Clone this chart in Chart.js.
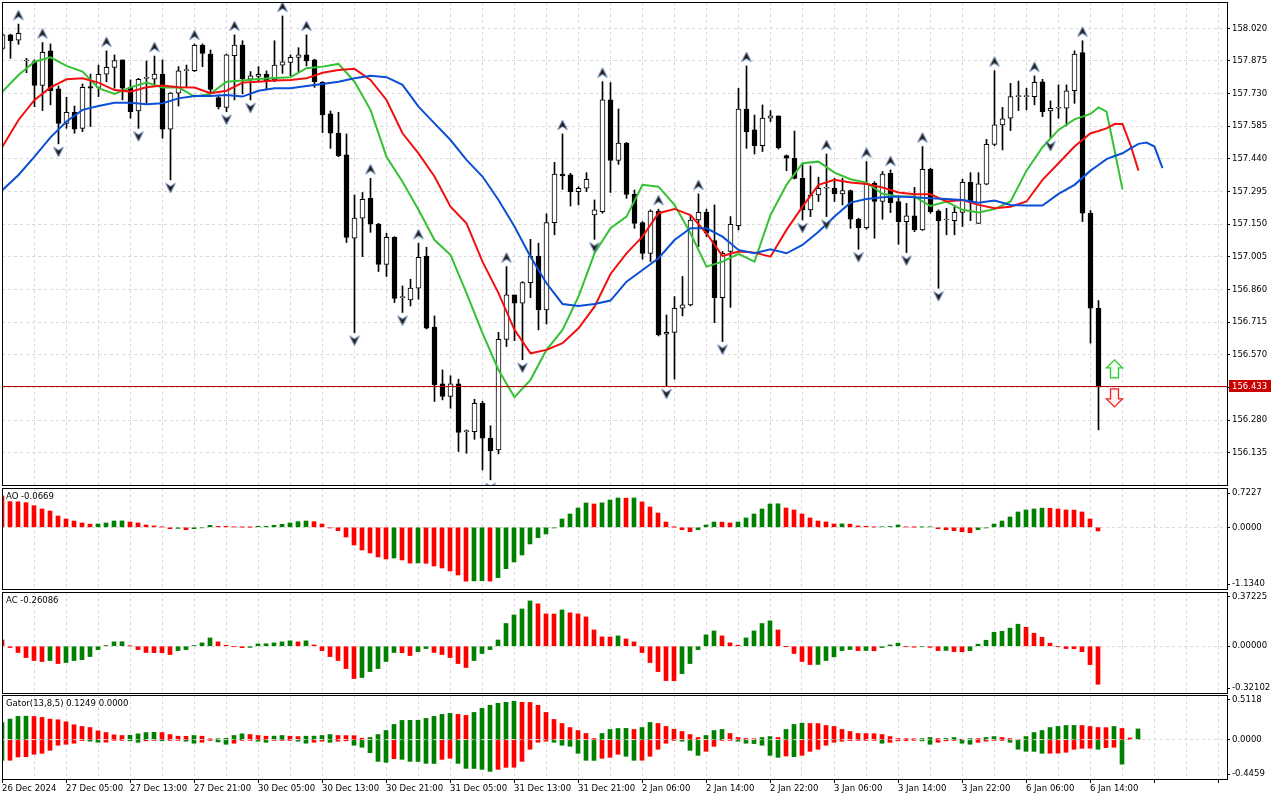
<!DOCTYPE html>
<html>
<head>
<meta charset="utf-8">
<title>USDJPY H1 - Alligator, AO, AC, Gator</title>
<script src="https://cdn.jsdelivr.net/npm/chart.js@4.4.1/dist/chart.umd.min.js"></script>
<style>
  html, body { margin: 0; padding: 0; background: #fff; }
  #wrap { position: relative; width: 1280px; height: 800px; overflow: hidden; background: #fff; }
  #wrap canvas { position: absolute; left: 0; }
</style>
</head>
<body>
<div id="wrap">
  <canvas id="price" width="1280" height="487" style="top:0px"></canvas>
  <canvas id="ao" width="1280" height="103" style="top:487px"></canvas>
  <canvas id="ac" width="1280" height="103" style="top:591px"></canvas>
  <canvas id="gator" width="1280" height="106" style="top:694px"></canvas>
</div>
<script>
// ---- candles (H1), index 0 = 26 Dec 21:00 ----
const opens = [
  157.931, 157.991, 157.968, 157.875, 157.872, 157.766, 157.920, 157.751, 157.598, 157.647,
  157.576, 157.761, 157.758, 157.817, 157.847, 157.880, 157.758, 157.653, 157.798, 157.794,
  157.817, 157.572, 157.732, 157.832, 157.832, 157.945, 157.906, 157.712, 157.669, 157.899,
  157.946, 157.794, 157.806, 157.817, 157.791, 157.856, 157.869, 157.891, 157.902, 157.880,
  157.780, 157.640, 157.554, 157.458, 157.088, 157.177, 157.265, 157.151, 156.972, 157.092,
  156.824, 156.814, 156.866, 157.009, 156.693, 156.441, 156.385, 156.441, 156.229, 156.229,
  156.355, 156.200, 156.148, 156.639, 156.836, 156.799, 156.891, 157.009, 156.770, 157.157,
  157.373, 157.369, 157.295, 157.310, 157.191, 157.206, 157.702, 157.433, 157.510, 157.283,
  157.157, 157.021, 157.209, 156.662, 156.670, 156.777, 156.792, 157.169, 157.203, 157.077,
  156.824, 157.029, 157.144, 157.661, 157.569, 157.499, 157.621, 157.631, 157.455, 157.443,
  157.354, 157.214, 157.280, 157.310, 157.310, 157.285, 157.299, 157.172, 157.135, 157.332,
  157.251, 157.376, 157.251, 157.162, 157.187, 157.125, 157.394, 157.209, 157.169, 157.166,
  157.203, 157.336, 157.154, 157.328, 157.505, 157.591, 157.621, 157.717, 157.717, 157.717,
  157.783, 157.653, 157.665, 157.665, 157.743, 157.912, 157.199, 156.777
];
const highs = [
  157.998, 157.994, 158.039, 157.887, 157.880, 157.957, 157.951, 157.764, 157.714, 157.675,
  157.773, 157.817, 157.857, 157.920, 157.902, 157.880, 157.791, 157.798, 157.875, 157.897,
  157.880, 157.735, 157.850, 157.857, 157.951, 157.951, 157.924, 157.724, 157.906, 157.991,
  157.965, 157.828, 157.850, 157.831, 157.965, 158.075, 157.902, 157.934, 157.991, 157.883,
  157.783, 157.653, 157.647, 157.551, 157.280, 157.291, 157.354, 157.154, 157.110, 157.095,
  156.876, 156.906, 157.066, 157.048, 156.743, 156.503, 156.477, 156.462, 156.237, 156.373,
  156.363, 156.255, 156.670, 156.962, 156.836, 156.895, 157.083, 157.066, 157.196, 157.425,
  157.551, 157.376, 157.317, 157.379, 157.258, 157.783, 157.779, 157.662, 157.513, 157.302,
  157.162, 157.214, 157.217, 156.747, 156.829, 156.918, 157.191, 157.285, 157.217, 157.236,
  157.029, 157.184, 157.754, 157.853, 157.635, 157.680, 157.655, 157.631, 157.458, 157.564,
  157.421, 157.409, 157.359, 157.462, 157.354, 157.354, 157.302, 157.177, 157.428, 157.339,
  157.384, 157.391, 157.273, 157.243, 157.314, 157.495, 157.399, 157.214, 157.221, 157.228,
  157.350, 157.379, 157.379, 157.527, 157.832, 157.669, 157.776, 157.786, 157.754, 157.809,
  157.794, 157.698, 157.769, 157.769, 157.920, 157.965, 157.211, 156.811
];
const lows = [
  157.924, 157.887, 157.949, 157.823, 157.672, 157.655, 157.680, 157.507, 157.576, 157.554,
  157.561, 157.584, 157.717, 157.783, 157.754, 157.702, 157.621, 157.576, 157.687, 157.764,
  157.532, 157.347, 157.675, 157.761, 157.828, 157.850, 157.732, 157.662, 157.650, 157.702,
  157.729, 157.702, 157.783, 157.749, 157.783, 157.820, 157.809, 157.828, 157.853, 157.758,
  157.557, 157.487, 157.450, 157.069, 156.669, 157.006, 157.114, 156.940, 156.918, 156.802,
  156.758, 156.787, 156.817, 156.685, 156.363, 156.370, 156.333, 156.141, 156.133, 156.195,
  156.059, 156.015, 156.130, 156.607, 156.633, 156.548, 156.824, 156.681, 156.707, 157.103,
  157.305, 157.231, 157.236, 157.295, 157.083, 157.199, 157.291, 157.416, 157.265, 157.132,
  156.995, 156.984, 156.654, 156.432, 156.462, 156.743, 156.787, 157.051, 157.095, 156.713,
  156.629, 156.781, 157.125, 157.487, 157.462, 157.473, 157.606, 157.484, 157.388, 157.351,
  157.169, 157.184, 157.251, 157.184, 157.251, 157.236, 157.132, 157.039, 157.128, 157.088,
  157.172, 157.202, 157.061, 157.024, 157.117, 157.122, 157.199, 156.866, 157.103, 157.103,
  157.140, 157.166, 157.154, 157.325, 157.499, 157.480, 157.566, 157.655, 157.658, 157.680,
  157.628, 157.532, 157.621, 157.587, 157.687, 157.162, 156.622, 156.237
];
const closes = [
  157.991, 157.965, 157.998, 157.875, 157.766, 157.914, 157.743, 157.598, 157.647, 157.572,
  157.758, 157.754, 157.816, 157.847, 157.877, 157.754, 157.650, 157.794, 157.798, 157.817,
  157.572, 157.732, 157.831, 157.832, 157.945, 157.909, 157.749, 157.672, 157.902, 157.946,
  157.795, 157.809, 157.816, 157.786, 157.857, 157.871, 157.891, 157.902, 157.875, 157.783,
  157.635, 157.554, 157.455, 157.091, 157.177, 157.261, 157.150, 156.972, 157.092, 156.821,
  156.824, 156.866, 157.003, 156.688, 156.437, 156.385, 156.441, 156.225, 156.229, 156.355,
  156.200, 156.145, 156.639, 156.836, 156.799, 156.891, 157.009, 156.770, 157.157, 157.373,
  157.365, 157.295, 157.310, 157.350, 157.214, 157.702, 157.433, 157.510, 157.283, 157.154,
  157.021, 157.209, 156.659, 156.670, 156.777, 156.792, 157.169, 157.203, 157.110, 156.824,
  157.021, 157.150, 157.661, 157.561, 157.499, 157.621, 157.631, 157.490, 157.443, 157.354,
  157.214, 157.280, 157.310, 157.310, 157.285, 157.299, 157.172, 157.135, 157.332, 157.251,
  157.373, 157.246, 157.162, 157.187, 157.125, 157.394, 157.206, 157.166, 157.169, 157.203,
  157.336, 157.251, 157.329, 157.505, 157.591, 157.618, 157.717, 157.717, 157.717, 157.780,
  157.650, 157.665, 157.665, 157.743, 157.906, 157.199, 156.777, 156.433
];

// fractal bars (candle indices)
const upFractals = [2, 5, 13, 19, 24, 29, 35, 38, 46, 52, 63, 70, 75, 82, 87, 93, 103, 108, 111, 115, 124, 129, 135];
const downFractals = [7, 17, 21, 28, 31, 44, 50, 61, 65, 74, 83, 90, 100, 103, 107, 113, 117, 131];

// Alligator lines, read every 2nd bar, then every bar on the shifted tail
const lineIdx = [];
for (let i = 0; i <= 136; i += 2) lineIdx.push(i);
for (let i = 137; i <= 145; i++) lineIdx.push(i);

const jawLine = [
  157.302, 157.369, 157.450, 157.536, 157.606, 157.658, 157.675, 157.690, 157.690, 157.683,
  157.687, 157.709, 157.720, 157.720, 157.724, 157.717, 157.743, 157.754, 157.754, 157.764,
  157.773, 157.783, 157.798, 157.809, 157.803, 157.769, 157.672, 157.598, 157.524, 157.436,
  157.362, 157.258, 157.140, 157.006, 156.888, 156.796, 156.787, 156.796, 156.811, 156.895,
  156.947, 156.999, 157.080, 157.132, 157.132, 157.095, 157.036, 157.021, 157.039, 157.021,
  157.058, 157.117, 157.184, 157.246, 157.262, 157.270, 157.273, 157.270, 157.265, 157.262,
  157.258, 157.246, 157.255, 157.236, 157.233, 157.233, 157.285, 157.325, 157.388,
  157.413, 157.439, 157.453, 157.465, 157.487, 157.507, 157.513, 157.495, 157.399
];
const teethLine = [
  157.495, 157.613, 157.702, 157.758, 157.794, 157.798, 157.779, 157.746, 157.739, 157.758,
  157.766, 157.758, 157.757, 157.732, 157.743, 157.779, 157.783, 157.788, 157.791, 157.798,
  157.823, 157.835, 157.840, 157.791, 157.702, 157.554, 157.465, 157.362, 157.228, 157.154,
  156.984, 156.844, 156.681, 156.577, 156.592, 156.622, 156.688, 156.784, 156.929, 157.021,
  157.095, 157.199, 157.218, 157.191, 157.110, 157.009, 157.029, 157.024, 157.006, 157.125,
  157.228, 157.325, 157.347, 157.335, 157.329, 157.313, 157.291, 157.283, 157.283, 157.251,
  157.258, 157.236, 157.221, 157.228, 157.251, 157.347, 157.421, 157.495, 157.554,
  157.564, 157.576, 157.595, 157.595, 157.502, 157.388
];
const lipsLine = [
  157.739, 157.813, 157.872, 157.891, 157.853, 157.828, 157.754, 157.729, 157.758, 157.779,
  157.757, 157.758, 157.717, 157.729, 157.783, 157.788, 157.795, 157.800, 157.803, 157.843,
  157.850, 157.862, 157.783, 157.658, 157.450, 157.339, 157.214, 157.080, 157.014, 156.844,
  156.666, 156.503, 156.382, 156.459, 156.592, 156.681, 156.829, 157.021, 157.132, 157.184,
  157.325, 157.317, 157.236, 157.110, 156.962, 156.984, 157.018, 156.984, 157.191, 157.325,
  157.421, 157.428, 157.379, 157.350, 157.335, 157.285, 157.273, 157.273, 157.231, 157.251,
  157.214, 157.202, 157.217, 157.251, 157.388, 157.492, 157.569, 157.616, 157.640,
  157.669, 157.650, 157.480, 157.305
];

// Awesome Oscillator
const aoValues = [
  0.576, 0.472, 0.470, 0.453, 0.398, 0.337, 0.300, 0.208, 0.153, 0.116,
  0.080, 0.058, 0.062, 0.080, 0.116, 0.118, 0.098, 0.080, 0.043, 0.025,
  0.006, -0.025, -0.020, -0.043, -0.025, -0.010, 0.037, 0.018, 0.017, 0.006,
  0.004, 0.002, 0.018, 0.019, 0.037, 0.055, 0.080, 0.104, 0.116, 0.104,
  0.061, -0.012, -0.061, -0.178, -0.325, -0.417, -0.472, -0.545, -0.582, -0.564,
  -0.600, -0.658, -0.655, -0.662, -0.711, -0.748, -0.803, -0.876, -0.990, -0.985,
  -0.982, -0.988, -0.925, -0.760, -0.637, -0.509, -0.306, -0.190, -0.123, -0.012,
  0.153, 0.245, 0.355, 0.447, 0.429, 0.450, 0.502, 0.539, 0.536, 0.540,
  0.466, 0.374, 0.263, 0.098, 0.002, -0.043, -0.080, -0.043, 0.043, 0.098,
  0.096, 0.080, 0.098, 0.172, 0.245, 0.337, 0.429, 0.432, 0.355, 0.319,
  0.245, 0.172, 0.116, 0.098, 0.061, 0.063, 0.058, 0.025, 0.018, 0.005,
  0.010, 0.015, 0.043, 0.006, 0.003, 0.005, 0.008, -0.025, -0.043, -0.061,
  -0.080, -0.098, -0.043, -0.012, 0.061, 0.116, 0.190, 0.282, 0.319, 0.337,
  0.352, 0.349, 0.337, 0.319, 0.317, 0.282, 0.153, -0.067
];
// Accelerator Oscillator
const acValues = [
  0.043, -0.009, -0.043, -0.078, -0.098, -0.105, -0.098, -0.119, -0.112, -0.098,
  -0.092, -0.071, -0.023, 0.005, 0.030, 0.031, 0.002, -0.023, -0.043, -0.044,
  -0.045, -0.057, -0.030, -0.023, 0.005, 0.023, 0.057, 0.030, 0.007, -0.002,
  -0.010, -0.008, 0.016, 0.017, 0.023, 0.030, 0.037, 0.030, 0.037, 0.009,
  -0.030, -0.071, -0.098, -0.153, -0.222, -0.215, -0.174, -0.153, -0.105, -0.043,
  -0.044, -0.064, -0.037, -0.016, -0.043, -0.057, -0.078, -0.119, -0.146, -0.098,
  -0.050, -0.023, 0.043, 0.156, 0.215, 0.256, 0.311, 0.291, 0.222, 0.221,
  0.249, 0.229, 0.222, 0.201, 0.112, 0.064, 0.063, 0.071, 0.050, 0.030,
  -0.043, -0.112, -0.174, -0.236, -0.237, -0.188, -0.119, -0.023, 0.078, 0.105,
  0.071, 0.023, 0.007, 0.057, 0.105, 0.156, 0.174, 0.112, -0.001, -0.050,
  -0.105, -0.126, -0.125, -0.098, -0.073, -0.030, -0.023, -0.030, -0.029, -0.031,
  -0.009, 0.009, 0.021, -0.002, -0.007, -0.003, -0.008, -0.030, -0.029, -0.037,
  -0.038, -0.030, 0.014, 0.041, 0.096, 0.103, 0.124, 0.151, 0.130, 0.089,
  0.062, 0.021, -0.002, -0.016, -0.017, -0.037, -0.126, -0.261
];
// Gator Oscillator (upper = jaw/teeth gap, lower = teeth/lips gap)
const gatorUpper = [
  0.199, 0.237, 0.268, 0.270, 0.267, 0.256, 0.237, 0.229, 0.206, 0.172,
  0.153, 0.141, 0.103, 0.084, 0.057, 0.050, 0.052, 0.069, 0.084, 0.086,
  0.084, 0.061, 0.042, 0.041, 0.050, 0.042, 0.012, 0.013, 0.018, 0.050,
  0.069, 0.061, 0.050, 0.042, 0.043, 0.050, 0.042, 0.038, 0.042, 0.043,
  0.050, 0.061, 0.050, 0.049, 0.048, 0.019, 0.027, 0.061, 0.107, 0.176,
  0.222, 0.223, 0.224, 0.245, 0.268, 0.291, 0.302, 0.291, 0.279, 0.313,
  0.359, 0.394, 0.417, 0.428, 0.440, 0.428, 0.427, 0.394, 0.313, 0.233,
  0.187, 0.141, 0.107, 0.073, 0.015, 0.073, 0.119, 0.130, 0.131, 0.119,
  0.141, 0.199, 0.187, 0.153, 0.122, 0.096, 0.061, 0.027, 0.050, 0.107,
  0.119, 0.073, 0.027, 0.015, 0.013, 0.027, 0.038, 0.027, 0.119, 0.176,
  0.191, 0.187, 0.186, 0.164, 0.153, 0.119, 0.096, 0.073, 0.072, 0.071,
  0.061, 0.038, 0.015, 0.014, 0.013, 0.015, 0.027, 0.015, 0.016, 0.027,
  0.002, 0.015, 0.014, 0.027, 0.038, 0.027, 0.015, 0.005, 0.038, 0.084,
  0.107, 0.141, 0.153, 0.164, 0.165, 0.164, 0.153, 0.141, 0.140, 0.153,
  0.130, 0.022, 0.125
];
const gatorLower = [
  -0.233, -0.232, -0.195, -0.191, -0.164, -0.153, -0.119, -0.061, -0.050, -0.038,
  -0.008, -0.015, -0.027, -0.026, -0.004, -0.003, -0.011, -0.027, -0.011, -0.004,
  -0.011, -0.004, -0.003, -0.015, -0.038, -0.027, -0.004, -0.023, -0.050, -0.038,
  -0.004, -0.002, -0.015, -0.027, -0.004, -0.003, -0.002, -0.015, -0.038, -0.027,
  -0.015, -0.027, -0.015, -0.011, -0.061, -0.084, -0.145, -0.245, -0.256, -0.214,
  -0.222, -0.245, -0.246, -0.268, -0.269, -0.222, -0.210, -0.268, -0.325, -0.326,
  -0.336, -0.359, -0.336, -0.313, -0.312, -0.245, -0.107, -0.027, -0.015, -0.027,
  -0.061, -0.073, -0.153, -0.233, -0.234, -0.210, -0.199, -0.164, -0.187, -0.233,
  -0.232, -0.187, -0.107, -0.038, -0.004, -0.015, -0.119, -0.176, -0.130, -0.073,
  -0.004, -0.002, -0.015, -0.038, -0.042, -0.061, -0.176, -0.199, -0.184, -0.191,
  -0.176, -0.130, -0.107, -0.061, -0.027, -0.015, -0.008, -0.004, -0.003, -0.002,
  -0.038, -0.027, -0.011, -0.010, -0.004, -0.011, -0.050, -0.027, -0.011, -0.004,
  -0.038, -0.050, -0.027, -0.015, -0.004, -0.003, -0.027, -0.107, -0.130, -0.131,
  -0.153, -0.152, -0.151, -0.141, -0.107, -0.096, -0.095, -0.107, -0.088, -0.084,
  -0.277
];

// axes
const priceTicks = [158.020, 157.875, 157.730, 157.585, 157.440, 157.295, 157.150,
  157.005, 156.860, 156.715, 156.570, 156.425, 156.280, 156.135];
const timeLabels = ['26 Dec 2024', '27 Dec 05:00', '27 Dec 13:00', '27 Dec 21:00', '30 Dec 05:00',
  '30 Dec 13:00', '30 Dec 21:00', '31 Dec 05:00', '31 Dec 13:00', '31 Dec 21:00', '2 Jan 06:00',
  '2 Jan 14:00', '2 Jan 22:00', '3 Jan 06:00', '3 Jan 14:00', '3 Jan 22:00', '6 Jan 06:00', '6 Jan 14:00'];
const aoAxis = { min: -1.1340, max: 0.7227, labels: ['0.7227', '0.0000', '-1.1340'] };
const acAxis = { min: -0.32102, max: 0.37225, labels: ['0.37225', '0.00000', '-0.32102'] };
const gatorAxis = { min: -0.4459, max: 0.5118, labels: ['0.5118', '0.0000', '-0.4459'] };
const aoTitle = 'AO -0.0669';
const acTitle = 'AC -0.26086';
const gatorTitle = 'Gator(13,8,5) 0.1249 0.0000';

// trade arrows drawn at the right of the last bar
const signalArrows = [
  { x: 139, price: 156.508, dir: 'up' },
  { x: 139, price: 156.379, dir: 'down' }
];

// ---- styling ----
const GREEN = '#008000', RED = '#ff0000', GRID = '#d9d9d9';
const AXIS_W = 53;
const X_SPAN = 1225 / 8;
Chart.defaults.font.family = '"DejaVu Sans", Tahoma, Verdana, sans-serif';
Chart.defaults.font.size = 8.5;
Chart.defaults.color = '#000';
Chart.defaults.animation = false;
Chart.defaults.events = [];
Chart.defaults.plugins.legend.display = false;
Chart.defaults.plugins.tooltip.enabled = false;

const gridIdx = [];
for (let i = 0; i <= 152; i += 4) gridIdx.push(i);
const barIdx = closes.map((c, i) => i);
const lastPrice = closes[closes.length - 1];

function xScale(min, showLabels) {
  return {
    type: 'linear', min: min, max: min + X_SPAN, offset: false,
    afterBuildTicks: s => { s.ticks = gridIdx.map(v => ({ value: v })); },
    grid: {
      color: GRID, offset: false, drawTicks: showLabels, tickLength: 4,
      tickColor: c => (c.tick && c.tick.value % 8 === 0) ? '#000' : 'rgba(0,0,0,0)'
    },
    border: { display: false, dash: [3, 3] },
    ticks: showLabels ? {
      display: true, autoSkip: false, maxRotation: 0, minRotation: 0, align: 'start', padding: 1,
      callback: v => (v % 8 === 0 && timeLabels[v / 8]) ? timeLabels[v / 8] : ''
    } : { display: false },
    afterFit: s => { s.height = showLabels ? 21 : 0; s.paddingLeft = 0; s.paddingRight = 0; }
  };
}

// AO / AC: green when the bar rises; Gator: green when the gap widens
function risingColors(vals, firstUp) {
  return vals.map((v, i) => (i === 0 ? firstUp : v > vals[i - 1]) ? GREEN : RED);
}
function wideningColors(vals, firstUp) {
  return vals.map((v, i) => (i === 0 ? firstUp : Math.abs(v) > Math.abs(vals[i - 1])) ? GREEN : RED);
}

const framePlugin = {
  id: 'frame',
  afterDraw(chart) {
    const { ctx, chartArea: a } = chart;
    ctx.save();
    ctx.strokeStyle = '#000';
    ctx.lineWidth = 1;
    ctx.strokeRect(Math.round(a.left) + 0.5, Math.round(a.top) + 0.5,
      Math.round(a.right - a.left), Math.round(a.bottom - a.top));
    ctx.restore();
  }
};

function titlePlugin(text) {
  return {
    id: 'panelTitle',
    afterDraw(chart) {
      const { ctx, chartArea: a } = chart;
      ctx.save();
      ctx.font = '8.5px "DejaVu Sans", Tahoma, sans-serif';
      ctx.fillStyle = '#000';
      ctx.textBaseline = 'top';
      ctx.fillText(text, a.left + 4, a.top + 5);
      ctx.restore();
    }
  };
}

function drawSignalArrow(ctx, cx, cy, up) {
  const s = up ? 1 : -1;
  ctx.beginPath();
  ctx.moveTo(cx, cy - 9 * s);
  ctx.lineTo(cx + 8, cy - 1 * s);
  ctx.lineTo(cx + 4, cy - 1 * s);
  ctx.lineTo(cx + 4, cy + 9 * s);
  ctx.lineTo(cx - 4, cy + 9 * s);
  ctx.lineTo(cx - 4, cy - 1 * s);
  ctx.lineTo(cx - 8, cy - 1 * s);
  ctx.closePath();
  ctx.fillStyle = up ? '#f2fff2' : '#fff2f2';
  ctx.fill();
  ctx.lineWidth = 1.3;
  ctx.strokeStyle = up ? '#2fc82f' : '#f02020';
  ctx.stroke();
}

const pricePlugin = {
  id: 'lastPrice',
  afterDatasetsDraw(chart) {
    const { ctx, chartArea: a, scales: { x, y } } = chart;
    const py = Math.round(y.getPixelForValue(lastPrice)) + 0.5;
    ctx.save();
    ctx.strokeStyle = '#c00000';
    ctx.lineWidth = 1;
    ctx.beginPath();
    ctx.moveTo(a.left, py);
    ctx.lineTo(a.right, py);
    ctx.stroke();
    signalArrows.forEach(m => {
      drawSignalArrow(ctx, x.getPixelForValue(m.x), y.getPixelForValue(m.price), m.dir === 'up');
    });
    ctx.restore();
  },
  afterDraw(chart) {
    const { ctx, chartArea: a, scales: { y } } = chart;
    const py = Math.round(y.getPixelForValue(lastPrice));
    ctx.save();
    ctx.fillStyle = '#c80000';
    ctx.fillRect(a.right + 2, py - 6, 42, 12);
    ctx.fillStyle = '#fff';
    ctx.font = '8.5px "DejaVu Sans", Tahoma, sans-serif';
    ctx.textBaseline = 'middle';
    ctx.fillText(lastPrice.toFixed(3), a.right + 5, py + 0.5);
    ctx.restore();
  }
};

function fractalGlyph(up) {
  const c = document.createElement('canvas');
  c.width = 12; c.height = 40;
  const g = c.getContext('2d');
  const cx = 6, cy = up ? 11 : 28, s = up ? 1 : -1;
  g.beginPath();
  g.moveTo(cx, cy - 5 * s);
  g.lineTo(cx + 5, cy + 5 * s);
  g.lineTo(cx, cy + 1.5 * s);
  g.lineTo(cx - 5, cy + 5 * s);
  g.closePath();
  g.fillStyle = '#1e1e1e';
  g.fill();
  g.strokeStyle = 'rgba(110,150,210,0.85)';
  g.lineWidth = 0.8;
  g.stroke();
  return c;
}

// ---- price panel ----
new Chart(document.getElementById('price'), {
  type: 'bar',
  data: {
    datasets: [
      {
        label: 'wick', order: 4, grouped: false, barThickness: 1,
        data: barIdx.map(i => ({ x: i, y: [lows[i], highs[i]] })),
        backgroundColor: '#000'
      },
      {
        label: 'body', order: 3, grouped: false, barThickness: 5, minBarLength: 1,
        data: barIdx.map(i => ({ x: i, y: [opens[i], closes[i]] })),
        backgroundColor: barIdx.map(i => closes[i] >= opens[i] ? '#fff' : '#000'),
        borderColor: '#000', borderWidth: 1, borderSkipped: false
      },
      {
        type: 'line', label: 'Jaw', order: 2,
        data: jawLine.map((v, k) => ({ x: lineIdx[k], y: v })),
        borderColor: '#0a4fd6', borderWidth: 2, pointRadius: 0, tension: 0
      },
      {
        type: 'line', label: 'Teeth', order: 2,
        data: teethLine.map((v, k) => ({ x: lineIdx[k], y: v })),
        borderColor: '#f01010', borderWidth: 2, pointRadius: 0, tension: 0
      },
      {
        type: 'line', label: 'Lips', order: 2,
        data: lipsLine.map((v, k) => ({ x: lineIdx[k], y: v })),
        borderColor: '#34c234', borderWidth: 2, pointRadius: 0, tension: 0
      },
      {
        type: 'line', label: 'Fractals up', order: 1, showLine: false,
        data: upFractals.map(i => ({ x: i, y: highs[i] })),
        pointStyle: fractalGlyph(true), pointRadius: 6
      },
      {
        type: 'line', label: 'Fractals down', order: 1, showLine: false,
        data: downFractals.map(i => ({ x: i, y: lows[i] })),
        pointStyle: fractalGlyph(false), pointRadius: 6
      }
    ]
  },
  options: {
    responsive: false,
    layout: { autoPadding: false, padding: { left: 2, top: 2, right: 0, bottom: 2 } },
    scales: {
      x: xScale(-0.0625, false),
      y: {
        position: 'right', min: 155.992, max: 158.137,
        afterBuildTicks: s => { s.ticks = priceTicks.map(v => ({ value: v })); },
        grid: { color: GRID, tickColor: '#000', tickLength: 3 },
        border: { display: false, dash: [3, 3] },
        ticks: { autoSkip: false, padding: 2, callback: v => v.toFixed(3) },
        afterFit: s => { s.width = AXIS_W; s.paddingTop = 0; s.paddingBottom = 0; }
      }
    }
  },
  plugins: [framePlugin, pricePlugin]
});

// ---- oscillator panels ----
function histChart(id, axis, plotHeight, datasets, title, showX, gridOnTop) {
  const inset = (axis.max - axis.min) * 5 / plotHeight;
  const tickVals = [axis.max - inset, 0, axis.min + inset];
  return new Chart(document.getElementById(id), {
    type: 'bar',
    data: { datasets: datasets },
    options: {
      responsive: false,
      layout: { autoPadding: false, padding: { left: 2, top: 1, right: 0, bottom: showX ? 0 : 1 } },
      scales: {
        x: xScale(0, showX),
        y: {
          position: 'right', min: axis.min, max: axis.max,
          afterBuildTicks: s => { s.ticks = tickVals.map(v => ({ value: v })); },
          grid: {
            color: c => (c.tick && c.tick.value === 0) ? GRID : 'rgba(0,0,0,0)',
            tickColor: '#000', tickLength: 3, z: gridOnTop ? 1 : 0
          },
          border: { display: false, dash: [3, 3] },
          ticks: { autoSkip: false, padding: 2, callback: (v, i) => axis.labels[i] },
          afterFit: s => { s.width = AXIS_W; s.paddingTop = 0; s.paddingBottom = 0; }
        }
      }
    },
    plugins: [framePlugin, titlePlugin(title)]
  });
}

function histSet(vals, colors) {
  return {
    grouped: false, barThickness: 4, borderWidth: 0,
    data: vals.map((v, i) => ({ x: i, y: v })),
    backgroundColor: colors
  };
}

histChart('ao', aoAxis, 101, [histSet(aoValues, risingColors(aoValues, false))], aoTitle, false, false);
histChart('ac', acAxis, 101, [histSet(acValues, risingColors(acValues, false))], acTitle, false, false);
histChart('gator', gatorAxis, 84, [
  histSet(gatorUpper, wideningColors(gatorUpper, true)),
  histSet(gatorLower, wideningColors(gatorLower, true))
], gatorTitle, true, true);
</script>
</body>
</html>
